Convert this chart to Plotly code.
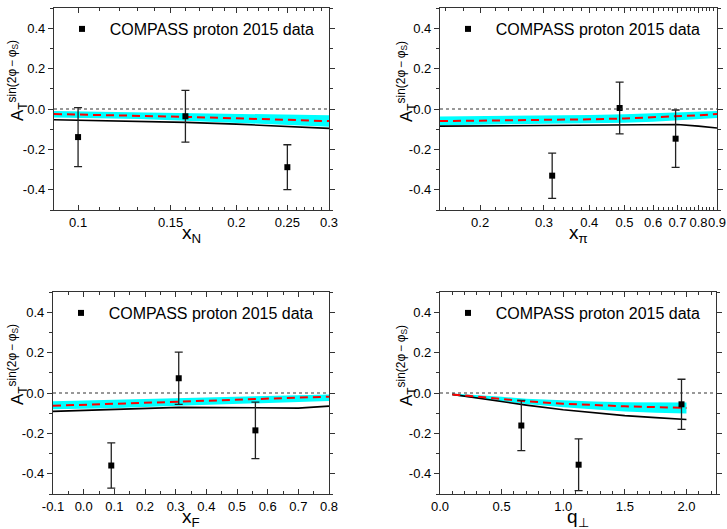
import numpy as np
import plotly.graph_objects as go

W, H = 727, 529

# ---------------- data ----------------
# Panel 1: x_N
xN_pts = [0.10, 0.16, 0.25]
xN_val = [-0.139, -0.036, -0.288]
xN_err = [0.146, 0.128, 0.111]
xN_curve = [0.09, 0.10, 0.13, 0.16, 0.20, 0.25, 0.30]
xN_black = [-0.053, -0.055, -0.060, -0.066, -0.075, -0.086, -0.096]
xN_red = [-0.025, -0.027, -0.033, -0.039, -0.046, -0.053, -0.060]
xN_up = [-0.010, -0.012, -0.015, -0.019, -0.023, -0.027, -0.031]
xN_lo = [-0.042, -0.044, -0.050, -0.058, -0.068, -0.078, -0.088]

# Panel 2: x_pi
xpi_pts = [0.316, 0.485, 0.692]
xpi_val = [-0.330, 0.005, -0.147]
xpi_err = [0.112, 0.128, 0.142]
xpi_curve = [0.155, 0.20, 0.30, 0.40, 0.50, 0.60, 0.70, 0.80, 0.90]
xpi_black = [-0.085, -0.083, -0.080, -0.079, -0.078, -0.077, -0.077, -0.085, -0.094]
xpi_red = [-0.060, -0.058, -0.054, -0.051, -0.047, -0.042, -0.036, -0.031, -0.025]
xpi_up = [-0.037, -0.036, -0.033, -0.030, -0.026, -0.022, -0.018, -0.014, -0.010]
xpi_lo = [-0.080, -0.078, -0.074, -0.071, -0.068, -0.063, -0.057, -0.050, -0.045]

# Panel 3: x_F
xF_pts = [0.09, 0.31, 0.56]
xF_val = [-0.359, 0.073, -0.185]
xF_err = [0.112, 0.129, 0.140]
xF_curve = [-0.10, 0.09, 0.31, 0.56, 0.70, 0.80]
xF_black = [-0.091, -0.081, -0.071, -0.073, -0.075, -0.065]
xF_red = [-0.063, -0.055, -0.043, -0.030, -0.023, -0.018]
xF_up = [-0.041, -0.034, -0.025, -0.015, -0.010, -0.007]
xF_lo = [-0.081, -0.075, -0.063, -0.051, -0.045, -0.040]

# Panel 4: q_perp
q_pts = [0.66, 1.125, 1.96]
q_val = [-0.161, -0.355, -0.056]
q_err = [0.124, 0.128, 0.124]
q_curve = [0.10, 0.30, 0.50, 0.70, 1.00, 1.25, 1.50, 1.75, 2.00]
q_black = [-0.007, -0.025, -0.043, -0.060, -0.083, -0.099, -0.112, -0.122, -0.131]
q_red = [-0.007, -0.018, -0.030, -0.041, -0.053, -0.061, -0.066, -0.070, -0.074]
q_up = [-0.003, -0.010, -0.019, -0.028, -0.037, -0.042, -0.046, -0.047, -0.047]
q_lo = [-0.012, -0.027, -0.041, -0.055, -0.071, -0.083, -0.092, -0.098, -0.102]

y_ticks = [-0.4, -0.2, 0.0, 0.2, 0.4]
xN_ticks = [0.1, 0.15, 0.2, 0.25, 0.3]
xpi_ticks = [0.2, 0.3, 0.4, 0.5, 0.6, 0.7, 0.8, 0.9]
xF_ticks = [-0.1, 0.0, 0.1, 0.2, 0.3, 0.4, 0.5, 0.6, 0.7, 0.8]
q_ticks = [0.0, 0.5, 1.0, 1.5, 2.0]

legend_label = "\u00a0\u2009COMPASS proton 2015 data"
ytitle = "A<sub>T</sub><sup>sin(2φ\u2009\u2212\u2009φ<sub>S</sub>)</sup>"

FONT = "Liberation Sans, Arial, sans-serif"

# panel pixel boxes (left, right, top, bottom)
boxes = [(54, 329, 8, 210), (440, 717, 8, 210), (53, 329, 292, 494), (440, 716, 292, 494)]

panels = [
    dict(xc=xN_curve, blk=xN_black, red=xN_red, up=xN_up, lo=xN_lo,
         xp=xN_pts, yp=xN_val, ye=xN_err),
    dict(xc=xpi_curve, blk=xpi_black, red=xpi_red, up=xpi_up, lo=xpi_lo,
         xp=xpi_pts, yp=xpi_val, ye=xpi_err),
    dict(xc=xF_curve, blk=xF_black, red=xF_red, up=xF_up, lo=xF_lo,
         xp=xF_pts, yp=xF_val, ye=xF_err),
    dict(xc=q_curve, blk=q_black, red=q_red, up=q_up, lo=q_lo,
         xp=q_pts, yp=q_val, ye=q_err),
]

fig = go.Figure()
for i, p in enumerate(panels):
    k = "" if i == 0 else str(i + 1)
    xa, ya = "x" + k, "y" + k
    leg = "legend" + k
    fig.add_trace(go.Scatter(x=p["xc"], y=p["up"], mode="lines", line=dict(width=0, color="#00FFFF"),
                             xaxis=xa, yaxis=ya, showlegend=False, hoverinfo="skip"))
    fig.add_trace(go.Scatter(x=p["xc"], y=p["lo"], mode="lines", line=dict(width=0, color="#00FFFF"),
                             fill="tonexty", fillcolor="#00FFFF",
                             xaxis=xa, yaxis=ya, showlegend=False, hoverinfo="skip"))
    fig.add_trace(go.Scatter(x=p["xc"], y=p["blk"], mode="lines", line=dict(width=1.6, color="black"),
                             xaxis=xa, yaxis=ya, showlegend=False))
    fig.add_trace(go.Scatter(x=p["xc"], y=p["red"], mode="lines",
                             line=dict(width=2, color="#FF0000", dash="8px,5px"),
                             xaxis=xa, yaxis=ya, showlegend=False))
    fig.add_trace(go.Scatter(x=p["xp"], y=p["yp"], mode="markers", name=legend_label,
                             marker=dict(symbol="square", size=6, color="black"),
                             error_y=dict(type="data", array=p["ye"], visible=True,
                                          color="#222222", thickness=1.3, width=4),
                             xaxis=xa, yaxis=ya, showlegend=True, legend=leg))
    fig.add_shape(type="line", xref=xa + " domain", yref=ya, x0=0, x1=1, y0=0, y1=0,
                  line=dict(color="#333333", width=1.2, dash="dot"), layer="above")

axcommon = dict(showline=True, linecolor="#333333", linewidth=1.3, mirror="ticks",
                ticklen=5, tickwidth=1.1, tickcolor="#333333",
                showgrid=False, zeroline=False, automargin=False, tickangle=0,
                tickfont=dict(family=FONT, size=13, color="black"))

layout = dict(width=W, height=H, margin=dict(l=0, r=0, t=0, b=0, autoexpand=False),
              paper_bgcolor="white", plot_bgcolor="white",
              font=dict(family=FONT, color="black"))

minor_xN = [round(v, 2) for v in np.arange(0.09, 0.301, 0.01) if round(v, 2) not in xN_ticks]
minor_xpi = [round(v, 2) for v in np.arange(0.16, 0.901, 0.02) if round(v, 2) not in xpi_ticks]

xaxes = [
    dict(type="log", range=[np.log10(0.09), np.log10(0.3)], tickvals=xN_ticks,
         ticktext=[str(v) for v in xN_ticks],
         minor=dict(tickvals=minor_xN, ticks="inside", ticklen=3, tickcolor="#333333")),
    dict(type="log", range=[np.log10(0.155), np.log10(0.9)], tickvals=xpi_ticks,
         ticktext=[str(v) for v in xpi_ticks],
         minor=dict(tickvals=minor_xpi, ticks="inside", ticklen=3, tickcolor="#333333")),
    dict(range=[-0.1, 0.8], tickvals=xF_ticks, ticktext=["%.1f" % v for v in xF_ticks],
         minor=dict(dtick=0.05, tick0=0, ticks="inside", ticklen=3, tickcolor="#333333")),
    dict(range=[0, 2.24], tickvals=q_ticks, ticktext=["%.1f" % v for v in q_ticks],
         minor=dict(dtick=0.1, tick0=0, ticks="inside", ticklen=3, tickcolor="#333333")),
]

for i, (bx, xa) in enumerate(zip(boxes, xaxes)):
    k = "" if i == 0 else str(i + 1)
    l, r, t, b = bx
    d = dict(axcommon)
    d.update(xa)
    d["ticks"] = "inside"
    d["domain"] = [l / W, r / W]
    d["anchor"] = "y" + k
    layout["xaxis" + k] = d
    dy = dict(axcommon)
    dy.update(dict(range=[-0.5, 0.5], tickvals=y_ticks, ticktext=["%.1f" % v for v in y_ticks],
                   ticks="outside",
                   minor=dict(dtick=0.1, tick0=0, ticks="outside", ticklen=3, tickcolor="#333333"),
                   domain=[1 - b / H, 1 - t / H], anchor="x" + k))
    layout["yaxis" + k] = dy
    # legend
    layout["legend" + k] = dict(x=(l + 8) / W, y=1 - (t + 21) / H, xanchor="left", yanchor="middle",
                                bgcolor="rgba(0,0,0,0)", font=dict(family=FONT, size=16, color="black"),
                                itemwidth=30)

fig.update_layout(**layout)

# axis titles as annotations
xtitles = ["x<sub>N</sub>", "x<sub>π</sub>", "x<sub>F</sub>", "q<sub>⊥</sub>"]
ytitle_x = [17, 406, 17, 406]
for i, bx in enumerate(boxes):
    l, r, t, b = bx
    fig.add_annotation(text=xtitles[i], xref="paper", yref="paper", x=(l + r) / 2 / W,
                       y=1 - (b + 24) / H, xanchor="center", yanchor="middle", showarrow=False,
                       font=dict(family=FONT, size=19, color="black"))
    fig.add_annotation(text=ytitle, xref="paper", yref="paper", x=ytitle_x[i] / W,
                       y=1 - (t + 73) / H, xanchor="center", yanchor="middle", showarrow=False,
                       textangle=-90, font=dict(family=FONT, size=17, color="black"))

fig.write_html("out.html", config={"displayModeBar": False},
               post_script="document.body.style.margin='0';document.body.style.overflow='hidden';")
